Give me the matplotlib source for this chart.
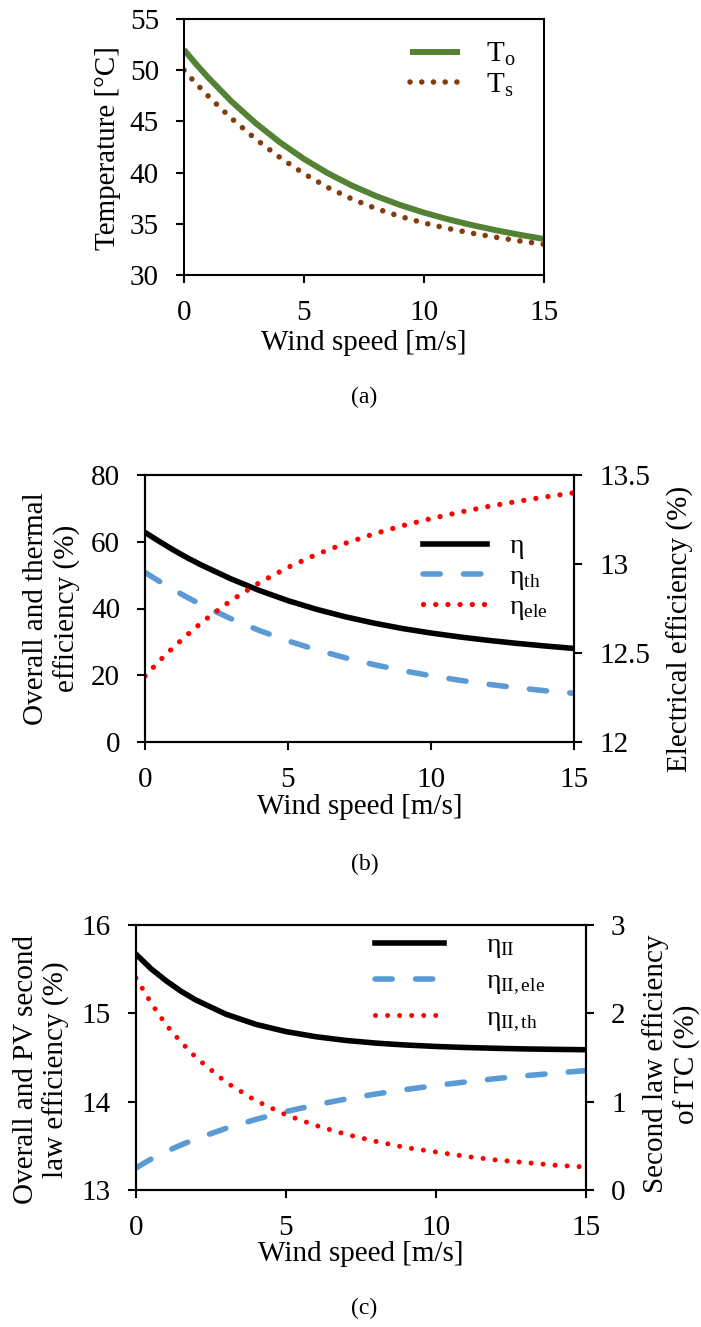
import matplotlib
matplotlib.use('Agg')
import matplotlib.pyplot as plt
from matplotlib.ticker import FormatStrFormatter

plt.rcParams['font.family'] = ['Liberation Serif', 'DejaVu Serif']
plt.rcParams['mathtext.fontset'] = 'custom'
plt.rcParams['mathtext.rm'] = 'Liberation Serif'
plt.rcParams['mathtext.it'] = 'Liberation Serif:italic'
plt.rcParams['font.size'] = 21
plt.rcParams['axes.linewidth'] = 1.5

# wind speed [m/s]
wind = [0, 0.5, 1, 1.5, 2, 3, 4, 5, 6, 7, 8, 9, 10, 11, 12, 13, 14, 15]

# (a) temperatures [C]
T_o = [52.0, 50.6, 49.3, 48.1, 46.9, 44.8, 42.95, 41.33, 39.93, 38.73, 37.71, 36.84, 36.09, 35.44, 34.87, 34.37, 33.92, 33.52]
T_s = [50.0, 48.7, 47.5, 46.35, 45.25, 43.25, 41.47, 39.89, 38.54, 37.42, 36.49, 35.72, 35.08, 34.54, 34.08, 33.68, 33.32, 33.0]

# (b) efficiencies [%]
eta = [62.8, 60.1, 57.5, 55.1, 52.9, 48.9, 45.4, 42.35, 39.75, 37.53, 35.63, 34.0, 32.65, 31.48, 30.46, 29.56, 28.76, 28.03]
eta_th = [50.8, 48.15, 45.6, 43.25, 41.0, 36.95, 33.4, 30.3, 27.6, 25.25, 23.2, 21.4, 19.85, 18.5, 17.3, 16.25, 15.35, 14.6]
eta_ele = [12.37, 12.455, 12.533, 12.605, 12.674, 12.794, 12.895, 12.981, 13.054, 13.116, 13.169, 13.215, 13.255,
           13.291, 13.323, 13.351, 13.377, 13.40]

# (c) second law efficiencies [%]
eta_II = [15.67, 15.505, 15.37, 15.25, 15.15, 14.99, 14.875, 14.793, 14.735, 14.693, 14.663, 14.641, 14.625,
          14.613, 14.604, 14.597, 14.592, 14.588]
eta_II_ele = [13.25, 13.35, 13.435, 13.51, 13.578, 13.698, 13.8, 13.888, 13.964, 14.03, 14.087, 14.138, 14.183,
              14.224, 14.261, 14.294, 14.324, 14.352]
eta_II_th = [2.40, 2.12, 1.87, 1.675, 1.50, 1.22, 1.01, 0.85, 0.73, 0.63, 0.55, 0.48, 0.43, 0.38, 0.34, 0.31, 0.28, 0.26]

W, H = 701, 1327
fig = plt.figure(figsize=(W / 100, H / 100), dpi=100)


def box(x0, y0, x1, y1):
    # pixel box (top-left origin) -> figure fraction
    return [x0 / W, 1 - y1 / H, (x1 - x0) / W, (y1 - y0) / H]


DASH = (0, (3.1, 4.2))
DOT = (0, (0.01, 2.1))
tick_kw = dict(direction='out', length=6, width=1.5, pad=12)

# ---------- (a) ----------
ax = fig.add_axes(box(184, 19, 544, 275))
ax.plot(wind, T_o, color='#548235', lw=4.3, solid_capstyle='butt', label=r'$\mathrm{T_o}$')
ax.plot(wind, T_s, color='#843C0C', lw=4, ls=DOT, dash_capstyle='round', label=r'$\mathrm{T_s}$')
ax.set_xlim(0, 15)
ax.set_ylim(30, 55)
ax.set_xticks([0, 5, 10, 15])
ax.set_yticks([30, 35, 40, 45, 50, 55])
ax.tick_params(**tick_kw)
ax.set_xlabel('Wind speed [m/s]')
ax.set_ylabel('Temperature [°C]')
ax.xaxis.set_label_coords(0.5, -0.266)
ax.xaxis.label.set_va('center')
ax.yaxis.set_label_coords(-0.211, 0.496)
ax.yaxis.label.set_va('center')
ax.legend(loc='upper left', bbox_to_anchor=(410 / W, 1 - 41 / H), bbox_transform=fig.transFigure,
          frameon=False, borderpad=0, borderaxespad=0, handlelength=1.7, handletextpad=0.9,
          labelspacing=0.12, fontsize=21)
fig.text(0.52, 1 - 397 / H, '(a)', ha='center', va='center', fontsize=17)

# ---------- (b) ----------
ax = fig.add_axes(box(145, 475, 574, 742))
ax2 = ax.twinx()
l1, = ax.plot(wind, eta, color='black', lw=4, label=r'$\mathrm{\eta}$')
l2, = ax.plot(wind, eta_th, color='#5B9BD5', lw=4, ls=DASH, dash_capstyle='round', label=r'$\mathrm{\eta_{th}}$')
l3, = ax2.plot(wind, eta_ele, color='#FF0000', lw=3.8, ls=(0, (0.01, 2.3)), dash_capstyle='round',
               label=r'$\mathrm{\eta_{ele}}$')
ax.set_xlim(0, 15)
ax.set_ylim(0, 80)
ax2.set_ylim(12, 13.5)
ax.set_xticks([0, 5, 10, 15])
ax.set_yticks([0, 20, 40, 60, 80])
ax2.set_yticks([12, 12.5, 13, 13.5])
ax2.yaxis.set_major_formatter(FormatStrFormatter('%g'))
ax.tick_params(**tick_kw)
ax2.tick_params(**tick_kw)
ax.set_xlabel('Wind speed [m/s]')
ax.set_ylabel('Overall and thermal\nefficiency (%)')
ax2.set_ylabel('Electrical efficiency (%)')
ax.xaxis.set_label_coords(0.5, -0.243)
ax.xaxis.label.set_va('center')
ax.yaxis.set_label_coords(-0.217, 0.5)
ax.yaxis.label.set_va('center')
ax2.yaxis.set_label_coords(1.247, 0.423)
ax2.yaxis.label.set_va('center')
ax2.legend(handles=[l1, l2, l3], loc='upper left', bbox_to_anchor=(423 / W, 1 - 534 / H),
           bbox_transform=fig.transFigure, frameon=False, borderpad=0, borderaxespad=0,
           handlelength=2.3, handletextpad=0.8, labelspacing=0.1, fontsize=20)
fig.text(0.52, 1 - 864 / H, '(b)', ha='center', va='center', fontsize=17)

# ---------- (c) ----------
ax = fig.add_axes(box(136, 925, 586, 1190))
ax2 = ax.twinx()
l1, = ax.plot(wind, eta_II, color='black', lw=4, label=r'$\mathrm{\eta_{II}}$')
l2, = ax.plot(wind, eta_II_ele, color='#5B9BD5', lw=4, ls=DASH, dash_capstyle='round',
              label=r'$\mathrm{\eta_{II,ele}}$')
l3, = ax2.plot(wind, eta_II_th, color='#FF0000', lw=3.6, ls=(0, (0.01, 2.4)), dash_capstyle='round',
               label=r'$\mathrm{\eta_{II,th}}$')
ax.set_xlim(0, 15)
ax.set_ylim(13, 16)
ax2.set_ylim(0, 3)
ax.set_xticks([0, 5, 10, 15])
ax.set_yticks([13, 14, 15, 16])
ax2.set_yticks([0, 1, 2, 3])
ax.tick_params(**tick_kw)
ax2.tick_params(**tick_kw)
ax.set_xlabel('Wind speed [m/s]')
ax.set_ylabel('Overall and PV second\nlaw efficiency (%)')
ax2.set_ylabel('Second law efficiency\nof TC (%)')
ax.xaxis.set_label_coords(0.5, -0.242)
ax.xaxis.label.set_va('center')
ax.yaxis.set_label_coords(-0.21, 0.453)
ax.yaxis.label.set_va('center')
ax2.yaxis.set_label_coords(1.19, 0.475)
ax2.yaxis.label.set_va('center')
ax2.legend(handles=[l1, l2, l3], loc='upper left', bbox_to_anchor=(375 / W, 1 - 933 / H),
           bbox_transform=fig.transFigure, frameon=False, borderpad=0, borderaxespad=0,
           handlelength=2.5, handletextpad=1.5, labelspacing=0.3, fontsize=20)
fig.text(0.52, 1 - 1308 / H, '(c)', ha='center', va='center', fontsize=17)

fig.savefig('out.png', dpi=100)
